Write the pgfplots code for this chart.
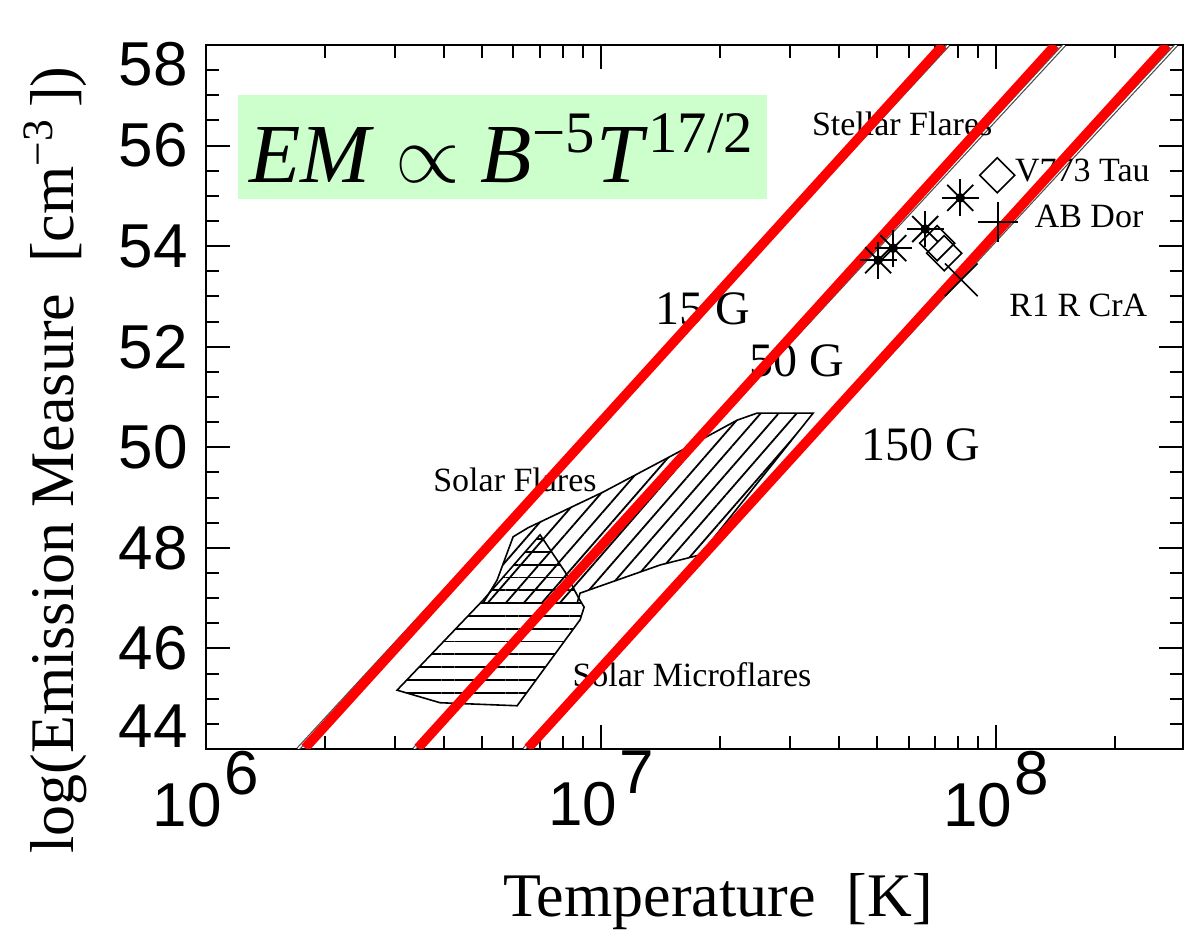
\documentclass[border=0pt]{standalone}
\usepackage{pgfplots}
\pgfplotsset{compat=1.18}
\usetikzlibrary{patterns.meta}
\usepackage{fontspec}
\setmainfont{Liberation Serif}
\newfontfamily\sansf{Liberation Sans}
\definecolor{boxgreen}{RGB}{204,255,204}
\definecolor{lred}{RGB}{255,0,0}

\begin{document}
\begin{tikzpicture}
\begin{axis}[name=ax, scale only axis, width=244.25pt, height=176pt,
  at={(0,0)}, anchor=south west,
  xmode=log, xmin=1e6, xmax=2.97e8, ymin=44, ymax=58,
  xtick={1e6,1e7,1e8},
  xticklabels={{10\hspace{0.7pt}\raisebox{8pt}{6}},{10\hspace{0.7pt}\raisebox{8pt}{7}},{10\hspace{0.7pt}\raisebox{8pt}{8}}},
  minor xtick={2e6,3e6,4e6,5e6,6e6,7e6,8e6,9e6,2e7,3e7,4e7,5e7,6e7,7e7,8e7,9e7,2e8},
  ytick={44,46,48,50,52,54,56,58},
  yticklabels={{\smash{\raisebox{0.45pt}{44}}},46,48,50,52,54,56,{\smash{\raisebox{-10pt}{58}}}},
  minor ytick={44.5,45,45.5,46.5,47,47.5,48.5,49,49.5,50.5,51,51.5,52.5,53,53.5,54.5,55,55.5,56.5,57,57.5},
  tick align=inside, major tick length=6pt, minor tick length=3.3pt,
  every tick/.style={black, line width=0.5pt},
  axis line style={line width=0.6pt},
  ticklabel style={font=\sansf\fontsize{15.5}{16}\selectfont},
  yticklabel style={xshift=-1pt},
  xticklabel style={yshift=3pt},
  clip=true,
]
% green formula box
\fill[boxgreen] (rel axis cs:0.0328,0.781) rectangle (rel axis cs:0.5742,0.929);
\node[font=\fontsize{21}{24}\selectfont] at (rel axis cs:0.3029,0.853)
  {\textit{EM} $\propto$ \textit{B}\textsuperscript{−5}\textit{T}\textsuperscript{17/2}};

% original thin field lines
\addplot[black!70, line width=0.3pt, double=white, double distance=0.35pt] coordinates {(1.71e6,44) (7.56e7,58)};
\addplot[black!70, line width=0.3pt, double=white, double distance=0.35pt] coordinates {(3.362e6,44) (1.487e8,58)};
\addplot[black!70, line width=0.3pt, double=white, double distance=0.35pt] coordinates {(6.384e6,44) (2.856e8,58)};

% solar flares region
\addplot[draw=black, line width=0.4pt, pattern={Lines[angle=49,distance=3.4pt,line width=0.45pt]}, pattern color=black]
  coordinates {(2.483e7,50.68) (3.441e7,50.68) (1.781e7,47.86) (1.411e7,47.66) (8.847e6,47.10) (8.694e6,46.90) (5.026e6,46.90) (5.455e6,47.36) (5.988e6,48.22) (6.535e6,48.40) (1.012e7,49.11) (1.557e7,49.89) (2.210e7,50.54)} -- cycle;
% solar microflares region
\addplot[draw=black, line width=0.4pt, pattern={Lines[angle=0,distance=3.2pt,line width=0.45pt]}, pattern color=black]
  coordinates {(3.045e6,45.17) (3.912e6,44.92) (6.130e6,44.86) (8.847e6,46.57) (9.057e6,46.82) (8.746e6,47.02) (8.107e6,47.52) (7.008e6,48.26) (5.026e6,46.96)} -- cycle;

% stellar flares
\addplot[black, only marks, mark=+, mark size=4.6pt, mark options={line width=0.45pt}] coordinates {(8.108e7,54.96) (6.611e7,54.34) (5.486e7,53.96) (5.026e7,53.72)};
\addplot[black, only marks, mark=x, mark size=4.6pt, mark options={line width=0.45pt}] coordinates {(8.108e7,54.96) (6.611e7,54.34) (5.486e7,53.96) (5.026e7,53.72)};
\addplot[black, only marks, mark=*, mark size=1pt] coordinates {(8.108e7,54.96) (6.611e7,54.34) (5.486e7,53.96) (5.026e7,53.72)};
\addplot[black, only marks, mark=square, mark size=3.1pt, mark options={rotate=45, line width=0.4pt}] coordinates {(1.006e8,55.41) (7.089e7,54.06) (7.385e7,53.86)};
\addplot[black, only marks, mark=+, mark size=5pt, mark options={line width=0.45pt}] coordinates {(1.012e8,54.48)};
\addplot[black, only marks, mark=x, mark size=5.8pt, mark options={line width=0.4pt}] coordinates {(8.155e7,53.33)};

% labels
\node[font=\fontsize{8.5}{10}\selectfont] at (axis cs:5.78e7,56.43) {Stellar Flares};
\node[font=\fontsize{8.5}{10}\selectfont] at (axis cs:1.652e8,55.51) {V773 Tau};
\node[font=\fontsize{8.5}{10}\selectfont] at (axis cs:1.718e8,54.60) {AB Dor};
\node[font=\fontsize{8.5}{10}\selectfont] at (axis cs:1.614e8,52.83) {R1 R CrA};
\node[font=\fontsize{8.5}{10}\selectfont] at (axis cs:6.053e6,49.35) {Solar Flares};
\node[font=\fontsize{8.5}{10}\selectfont] at (axis cs:1.698e7,45.47) {Solar Microflares};
\node[font=\fontsize{12}{14}\selectfont] at (axis cs:1.811e7,52.75) {15 G};
\node[font=\fontsize{12}{14}\selectfont] at (axis cs:3.133e7,51.72) {50 G};
\node[font=\fontsize{12}{14}\selectfont] at (axis cs:6.457e7,50.05) {150 G};

% red field lines
\addplot[lred, line width=2.4pt] coordinates {(1.781e6,44.02) (7.34e7,58)};
\addplot[lred, line width=2.4pt] coordinates {(3.441e6,44.02) (1.411e8,58)};
\addplot[lred, line width=2.4pt] coordinates {(6.535e6,44.02) (2.710e8,58)};
\end{axis}
\node[rotate=90, font=\fontsize{15.5}{18}\selectfont] at (-37.75pt,72.25pt) {log(Emission Measure\ \ [cm\textsuperscript{−3}\,])};
\node[font=\fontsize{15.5}{18}\selectfont] at (128pt,-38.25pt) {Temperature\ \ [K]};
\pgfresetboundingbox
\path[use as bounding box] ([shift={(-51.5pt,-46.75pt)}]ax.south west) rectangle ([shift={(0.5pt,11.25pt)}]ax.north east);
\end{tikzpicture}
\end{document}
